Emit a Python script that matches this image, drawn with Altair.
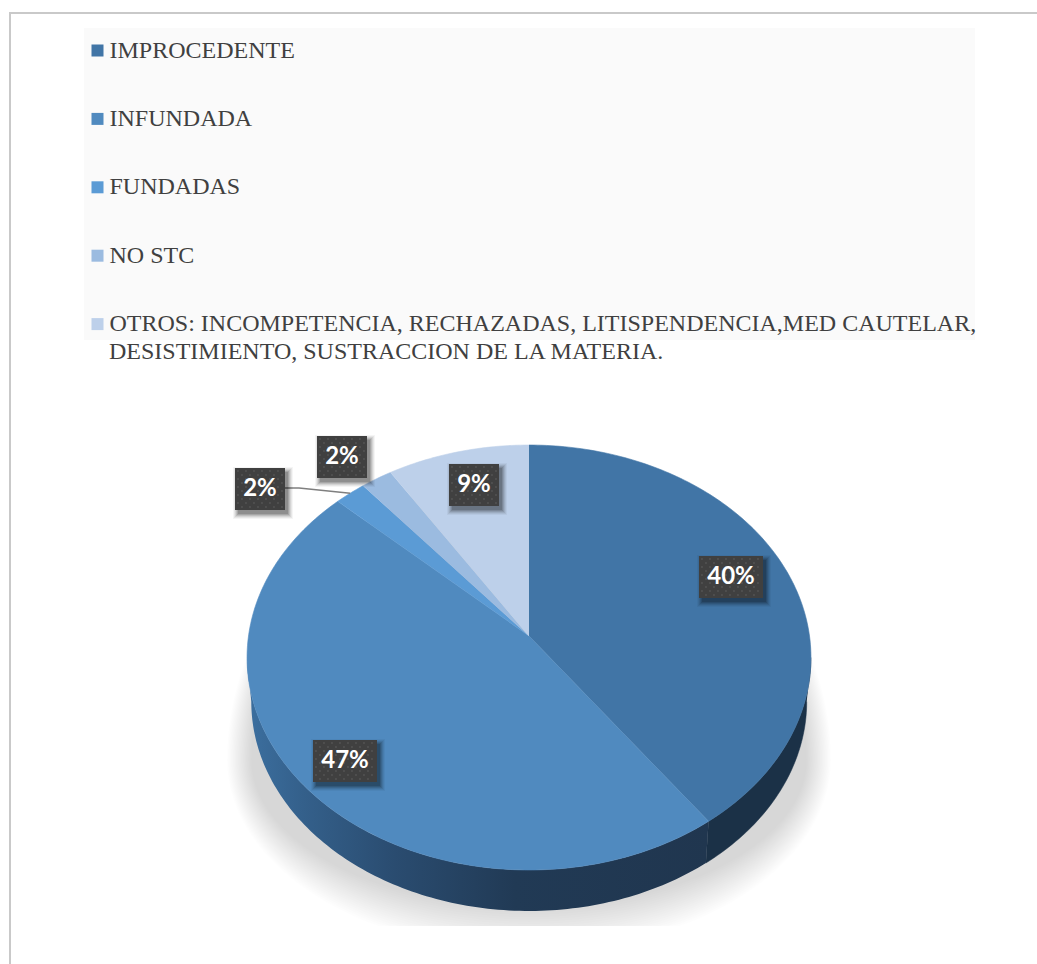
import math
import altair as alt
import pandas as pd

# Series
categories = [
    "IMPROCEDENTE",
    "INFUNDADA",
    "FUNDADAS",
    "NO STC",
    "OTROS: INCOMPETENCIA, RECHAZADAS, LITISPENDENCIA,MED CAUTELAR,",
]
legend_second_line = "DESISTIMIENTO, SUSTRACCION DE LA MATERIA."
shares = [40, 47, 2, 2, 9]
face_colors = ["#4175a6", "#508abf", "#5b9bd5", "#9bbbe0", "#bdd0ea"]

# Pie layout in canvas units
W, H = 1037, 964
CX, CY = 529, 636
A, B, K = 280.5, 210.3, 0.1012
DEPTH, SHRINK = 44.5, 0.985

# Label boxes: centre x, centre y, width (one per category, in order)
box_x = [731, 345, 260, 342, 474]
box_y = [577, 761, 489, 457, 485]
box_w = [64, 64, 50, 50, 50]
BOX_H = 42


def project(theta, below=False):
    """Map an angle on the tilted disc to canvas coordinates."""
    t = math.radians(theta)
    d = 1 + K * math.cos(t)
    x, y = A * math.sin(t) / d, -B * math.cos(t) / d
    if below:
        return CX + SHRINK * x, CY + SHRINK * y + DEPTH
    return CX + x, CY + y


edges = [0.0]
for s in shares:
    edges.append(edges[-1] + s * 3.6)


def arc(a, b, below=False):
    n = max(2, int(abs(b - a)) + 2)
    return [project(a + (b - a) * i / (n - 1), below) for i in range(n)]


face_rows = []
for c, a, b in zip(categories, edges[:-1], edges[1:]):
    pts = [(CX, CY)] + arc(a, b)
    face_rows += [{"cat": c, "i": i, "x": p[0], "y": p[1]} for i, p in enumerate(pts)]

EDGE_R, EDGE_L = 95.8, 264.2
wall_right = arc(EDGE_R, edges[1]) + arc(edges[1], EDGE_R, True)
wall_left = arc(edges[1], EDGE_L) + arc(EDGE_L, edges[1], True)
wall_right_df = pd.DataFrame([{"i": i, "x": p[0], "y": p[1]} for i, p in enumerate(wall_right)])
wall_left_df = pd.DataFrame([{"i": i, "x": p[0], "y": p[1]} for i, p in enumerate(wall_left)])

# Soft floor shadow built from nested translucent outlines, flat along the floor line
shadow_rows = []
STEPS = 20
SHADOW_Y, FLOOR = 760, 926
for k in range(STEPS):
    f = k / (STEPS - 1)
    rx = 278 + 24 * f
    ry_up, ry_down = 290, 148 + 44 * f
    for j in range(181):
        t = math.radians(j * 2)
        c = math.cos(t)
        shadow_rows.append({
            "layer": k, "i": j,
            "x": CX + rx * math.sin(t),
            "y": min(FLOOR, SHADOW_Y + (ry_down if c > 0 else ry_up) * c),
        })

X = alt.X("x:Q", scale=alt.Scale(domain=[0, W]), axis=None)
Y = alt.Y("y:Q", scale=alt.Scale(domain=[H, 0]), axis=None)
X2, Y2 = alt.X2("x2:Q"), alt.Y2("y2:Q")


def rect_df(rows):
    return pd.DataFrame(rows, columns=["x", "x2", "y", "y2"])


panel = alt.Chart(rect_df([(84, 975, 28, 340)])).mark_rect(color="#fafafa").encode(X, X2, Y, Y2)
frame = alt.Chart(rect_df([(9, W, 12, 14), (9, 11, 12, H)])).mark_rect(color="#c9c9c9").encode(X, X2, Y, Y2)

shadow = alt.Chart(pd.DataFrame(shadow_rows)).mark_line(
    fill="black", fillOpacity=0.0095, strokeWidth=0, stroke="transparent"
).encode(X, Y, detail="layer:N", order="i:Q")

wall_gradient = alt.Gradient(
    gradient="linear", x1=0, x2=1, y1=0, y2=0,
    stops=[
        alt.GradientStop(color="#3c6f9f", offset=0),
        alt.GradientStop(color="#34608b", offset=0.12),
        alt.GradientStop(color="#2a4c70", offset=0.32),
        alt.GradientStop(color="#213a55", offset=0.58),
        alt.GradientStop(color="#20364f", offset=1),
    ],
)
wall_r = alt.Chart(wall_right_df).mark_line(fill="#1b3147", stroke="#1b3147", strokeWidth=0.5).encode(X, Y, order="i:Q")
wall_l = alt.Chart(wall_left_df).mark_line(fill=wall_gradient, stroke="transparent", strokeWidth=0).encode(X, Y, order="i:Q")

legend = alt.Legend(
    title=None, orient="none", legendX=85.5, legendY=38.5,
    symbolType="square", symbolSize=144, symbolStrokeWidth=0,
    labelFont="Liberation Serif", labelFontSize=24, labelColor="#404040",
    labelLimit=1000, labelOffset=0, rowPadding=44.4,
)
faces = alt.Chart(pd.DataFrame(face_rows)).mark_line(strokeWidth=0.6).encode(
    X, Y, order="i:Q", detail="cat:N",
    fill=alt.Fill("cat:N", scale=alt.Scale(domain=categories, range=face_colors), legend=legend),
    stroke=alt.Stroke("cat:N", scale=alt.Scale(domain=categories, range=face_colors), legend=None),
)

second_line = alt.Chart(pd.DataFrame({"x": [109], "y": [359], "t": [legend_second_line]})).mark_text(
    align="left", baseline="alphabetic", font="Liberation Serif", fontSize=24, color="#404040"
).encode(X, Y, text="t:N")

# Leader from the FUNDADAS label to the rim of its slice
rim = project((edges[2] + edges[3]) / 2)
leader = alt.Chart(pd.DataFrame({
    "x": [box_x[2] + box_w[2] / 2, box_x[2] + box_w[2] / 2 + 14, rim[0]],
    "y": [box_y[2] - 1, box_y[2] - 1, rim[1]],
    "i": [0, 1, 2],
})).mark_line(color="#7f7f7f", strokeWidth=1.5).encode(X, Y, order="i:Q")

box_rows = [(x - w / 2, x + w / 2, y - BOX_H / 2, y + BOX_H / 2) for x, y, w in zip(box_x, box_y, box_w)]
glow = []
for grow, alpha in [(5, 0.04), (4, 0.06), (3, 0.08), (2, 0.10), (1, 0.12), (0, 0.14)]:
    glow.append(
        alt.Chart(rect_df([(a - grow + 3, b + grow + 3, c - grow + 4, d + grow + 4) for a, b, c, d in box_rows]))
        .mark_rect(color="#000000", opacity=alpha)
        .encode(X, X2, Y, Y2)
    )
boxes = alt.Chart(rect_df(box_rows)).mark_rect(color="#404040").encode(X, X2, Y, Y2)

dot_rows = []
for a, b, c, d in box_rows:
    row, yy = 0, c + 3
    while yy < d - 1:
        xx = a + (3 if row % 2 == 0 else 7)
        while xx < b - 1:
            dot_rows.append({"x": xx, "y": yy})
            xx += 8
        yy += 4
        row += 1
dots = alt.Chart(pd.DataFrame(dot_rows)).mark_square(size=2, color="#666666").encode(X, Y)

labels = alt.Chart(pd.DataFrame({
    "x": box_x, "y": box_y, "t": [f"{s}%" for s in shares],
})).mark_text(font="Lato", fontWeight="bold", fontSize=24, color="#ffffff", baseline="middle", align="center").encode(X, Y, text="t:N")

chart = alt.layer(
    panel, frame, shadow, wall_r, wall_l, faces, second_line, leader, *glow, boxes, dots, labels
).resolve_scale(
    fill="independent", stroke="independent"
).properties(
    width=W, height=H, padding=0, autosize=alt.AutoSizeParams(type="none"),
).configure_view(stroke=None)

chart.save("out.html", embed_options={"renderer": "svg", "actions": False})
